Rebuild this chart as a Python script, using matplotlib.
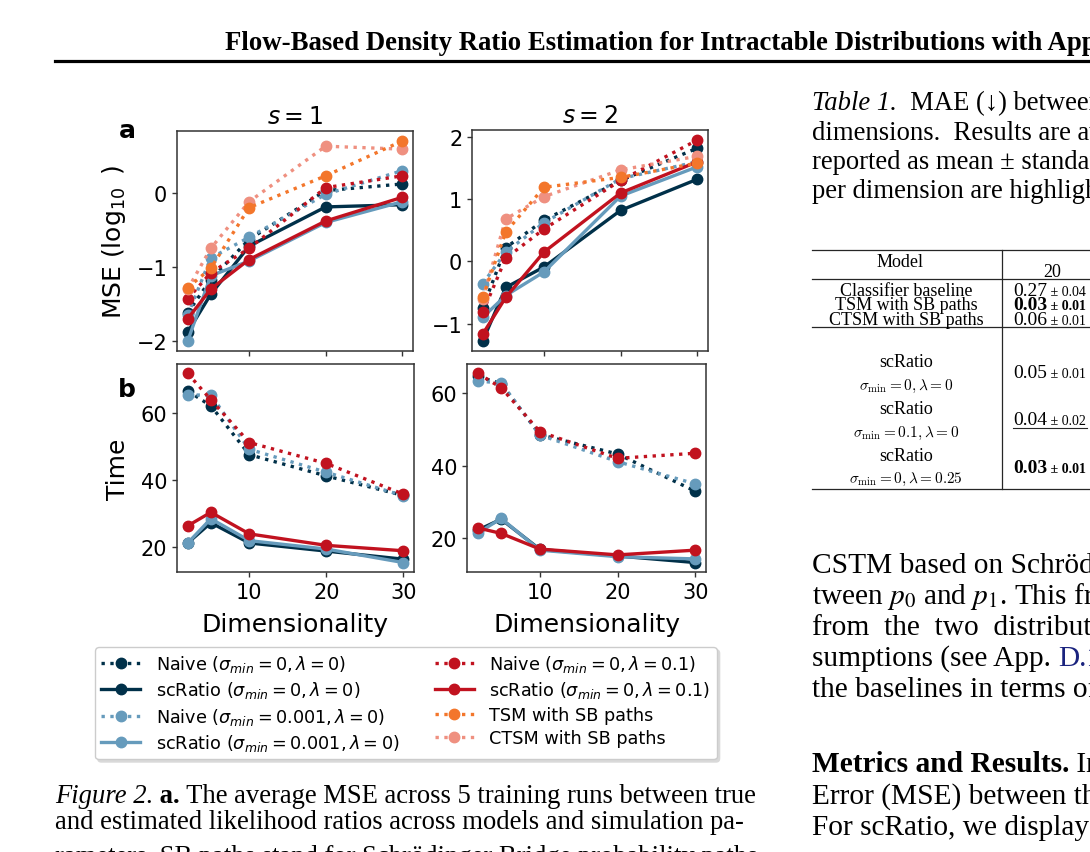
import matplotlib
matplotlib.use('Agg')
import matplotlib.pyplot as plt
from matplotlib.lines import Line2D

# ---- data ----
dims = [2, 5, 10, 20, 30]

# MSE (log10), s = 1
mse1_naive_00 = [-1.62, -1.17, -0.63, 0.03, 0.12]
mse1_sc_00 = [-1.88, -1.37, -0.72, -0.19, -0.16]
mse1_naive_0001 = [-1.65, -0.88, -0.60, -0.02, 0.30]
mse1_sc_0001 = [-2.00, -1.12, -0.92, -0.40, -0.12]
mse1_naive_01 = [-1.43, -1.08, -0.75, 0.07, 0.23]
mse1_sc_01 = [-1.70, -1.30, -0.90, -0.38, -0.06]
mse1_tsm = [-1.28, -1.02, -0.20, 0.23, 0.70]
mse1_ctsm = [-1.30, -0.75, -0.12, 0.63, 0.59]

# MSE (log10), s = 2
mse2_naive_00 = [-0.75, 0.22, 0.66, 1.30, 1.82]
mse2_sc_00 = [-1.28, -0.42, -0.09, 0.82, 1.32]
mse2_naive_0001 = [-0.36, 0.15, 0.62, 1.33, 1.60]
mse2_sc_0001 = [-0.90, -0.55, -0.17, 1.05, 1.52]
mse2_naive_01 = [-0.82, 0.05, 0.52, 1.30, 1.95]
mse2_sc_01 = [-1.17, -0.58, 0.15, 1.10, 1.60]
mse2_tsm = [-0.58, 0.47, 1.19, 1.35, 1.58]
mse2_ctsm = [-0.60, 0.68, 1.04, 1.47, 1.69]

# Time, s = 1
t1_naive_00 = [66.4, 62.0, 47.5, 41.2, 35.4]
t1_sc_00 = [21.3, 27.3, 21.3, 18.9, 16.5]
t1_naive_0001 = [65.2, 65.2, 49.1, 42.3, 35.3]
t1_sc_0001 = [21.3, 28.5, 22.0, 19.5, 15.5]
t1_naive_01 = [71.6, 63.8, 51.1, 44.9, 35.8]
t1_sc_01 = [26.4, 30.4, 24.0, 20.6, 19.0]

# Time, s = 2
t2_naive_00 = [64.5, 62.5, 48.5, 43.2, 33.0]
t2_sc_00 = [22.3, 25.3, 17.0, 15.2, 13.4]
t2_naive_0001 = [63.2, 62.7, 48.4, 41.1, 35.0]
t2_sc_0001 = [21.5, 25.5, 16.8, 15.0, 14.4]
t2_naive_01 = [65.3, 61.4, 49.3, 42.0, 43.4]
t2_sc_01 = [22.9, 21.4, 17.1, 15.5, 16.8]

labels = {
    'naive_00': r'Naive ($\sigma_{min} = 0, \lambda = 0$)',
    'sc_00': r'scRatio ($\sigma_{min} = 0, \lambda = 0$)',
    'naive_0001': r'Naive ($\sigma_{min} = 0.001, \lambda = 0$)',
    'sc_0001': r'scRatio ($\sigma_{min} = 0.001, \lambda = 0$)',
    'naive_01': r'Naive ($\sigma_{min} = 0, \lambda = 0.1$)',
    'sc_01': r'scRatio ($\sigma_{min} = 0, \lambda = 0.1$)',
    'tsm': 'TSM with SB paths',
    'ctsm': 'CTSM with SB paths',
}
navy, steel, red, orange, salmon = '#003049', '#669bbc', '#c1121f', '#f3762b', '#ef9080'
styles = {
    'naive_00': (navy, ':'), 'sc_00': (navy, '-'),
    'naive_0001': (steel, ':'), 'sc_0001': (steel, '-'),
    'naive_01': (red, ':'), 'sc_01': (red, '-'),
    'tsm': (orange, ':'), 'ctsm': (salmon, ':'),
}
draw_order = ['naive_00', 'sc_00', 'naive_0001', 'sc_0001', 'naive_01', 'sc_01', 'ctsm', 'tsm']

panels = [
    ('mse1', {'naive_00': mse1_naive_00, 'sc_00': mse1_sc_00, 'naive_0001': mse1_naive_0001,
              'sc_0001': mse1_sc_0001, 'naive_01': mse1_naive_01, 'sc_01': mse1_sc_01,
              'tsm': mse1_tsm, 'ctsm': mse1_ctsm}),
    ('mse2', {'naive_00': mse2_naive_00, 'sc_00': mse2_sc_00, 'naive_0001': mse2_naive_0001,
              'sc_0001': mse2_sc_0001, 'naive_01': mse2_naive_01, 'sc_01': mse2_sc_01,
              'tsm': mse2_tsm, 'ctsm': mse2_ctsm}),
    ('t1', {'naive_00': t1_naive_00, 'sc_00': t1_sc_00, 'naive_0001': t1_naive_0001,
            'sc_0001': t1_sc_0001, 'naive_01': t1_naive_01, 'sc_01': t1_sc_01}),
    ('t2', {'naive_00': t2_naive_00, 'sc_00': t2_sc_00, 'naive_0001': t2_naive_0001,
            'sc_0001': t2_sc_0001, 'naive_01': t2_naive_01, 'sc_01': t2_sc_01}),
]

W, H = 1090, 853
fig = plt.figure(figsize=(W / 100, H / 100), dpi=100)
fig.patch.set_facecolor('white')


def box(l, t, r, b):
    return [l / W, 1 - b / H, (r - l) / W, (b - t) / H]


axes = {
    'mse1': fig.add_axes(box(177, 132, 413, 352)),
    'mse2': fig.add_axes(box(472, 131, 708, 352)),
    't1': fig.add_axes(box(177, 365, 414, 573)),
    't2': fig.add_axes(box(467, 365, 706, 573)),
}

for name, series in panels:
    ax = axes[name]
    for key in draw_order:
        if key not in series:
            continue
        c, ls = styles[key]
        ax.plot(dims, series[key], color=c, ls=ls, lw=2.4, marker='o', ms=7.5)
    ax.set_xticks([10, 20, 30])
    ax.tick_params(labelsize=15, color='0.2', width=1)
    for sp in ax.spines.values():
        sp.set_color('0.2')
        sp.set_linewidth(1.1)

axes['mse1'].set_xticklabels([])
axes['mse2'].set_xticklabels([])
axes['mse1'].set_title('$s = 1$', fontsize=17)
axes['mse2'].set_title('$s = 2$', fontsize=17)
axes['mse1'].set_yticks([-2, -1, 0])
axes['mse2'].set_yticks([-1, 0, 1, 2])
axes['t1'].set_yticks([20, 40, 60])
axes['t2'].set_yticks([20, 40, 60])

axes['mse1'].set_ylabel(r'MSE ($\log_{10}$ )', fontsize=18, va='center')
axes['mse1'].yaxis.set_label_coords(-0.267, 0.5)
axes['t1'].set_ylabel('Time', fontsize=18, va='center')
axes['t1'].yaxis.set_label_coords(-0.249, 0.5)
for k in ['t1', 't2']:
    axes[k].set_xlabel('Dimensionality', fontsize=18, va='baseline')
    axes[k].xaxis.set_label_coords(0.5, -0.284)

fig.text(127 / W, 1 - 138 / H, 'a', fontsize=18, fontweight='bold', ha='center', va='baseline')
fig.text(127 / W, 1 - 397 / H, 'b', fontsize=18, fontweight='bold', ha='center', va='baseline')

legend_keys = ['naive_00', 'sc_00', 'naive_0001', 'sc_0001', 'naive_01', 'sc_01', 'tsm', 'ctsm']
handles = [Line2D([], [], color=styles[k][0], ls=styles[k][1], lw=2.4, marker='o', ms=7.5)
           for k in legend_keys]
fig.legend(handles, [labels[k] for k in legend_keys], ncol=2, loc='upper left',
           bbox_to_anchor=(95 / W, 1 - 648 / H), borderaxespad=0, fontsize=12.7,
           handlelength=2.2, handletextpad=0.9, columnspacing=2.0, labelspacing=0.3,
           borderpad=0.35, edgecolor='0.8', framealpha=1,
           shadow={'color': '0.85', 'alpha': 1, 'ox': 2, 'oy': -2})

# ---- surrounding page text ----
serif = ['Liberation Serif', 'DejaVu Serif']
renderer = fig.canvas.get_renderer()


def put(x, y, s, size, **kw):
    return fig.text(x / W, 1 - y / H, s, fontsize=size, family=serif, va='baseline', **kw)


def runs(x, y, parts, size):
    for s, kw in parts:
        t = put(x, y, s, size, **kw)
        x += t.get_window_extent(renderer).width


put(225, 50, 'Flow-Based Density Ratio Estimation for Intractable Distributions with Applications',
    19.3, fontweight='bold')
fig.add_artist(Line2D([55 / W, 1], [1 - 62 / H] * 2, transform=fig.transFigure, color='k', lw=2.3))

cap = 19.2
runs(55, 803, [('Figure 2.', {'style': 'italic'}), (' a.', {'fontweight': 'bold'}),
               (' The average MSE across 5 training runs between true', {})], cap)
put(55, 829, 'and estimated likelihood ratios across models and simulation pa-', cap)
put(55, 864, 'rameters. SB paths stand for Schrödinger Bridge probability paths', cap)

runs(812, 110, [('Table 1.', {'style': 'italic'}), ('  MAE (↓) between the true', {})], cap)
put(812, 140, 'dimensions.  Results are averaged', cap)
put(812, 169, 'reported as mean ± standard deviation', cap)
put(812, 198, 'per dimension are highlighted', cap)

body = 21.2
put(812, 573, 'CSTM based on Schrödinger Bridges', body)
put(812, 604, r'tween $p_0$ and $p_1$. This framework', body, math_fontfamily='stix')
put(812, 635, 'from  the  two  distributions', body)
runs(812, 666, [('sumptions (see App. ', {}), ('D.1', {'color': '#1a237e'})], body)
put(812, 697, 'the baselines in terms of', body)
runs(812, 772, [('Metrics and Results.', {'fontweight': 'bold'}), (' In', {})], body)
put(812, 804, 'Error (MSE) between the', body)
put(812, 835, 'For scRatio, we display', body)

# ---- table ----
def hline(x0, x1, y, lw=0.9):
    fig.add_artist(Line2D([x0 / W, x1 / W], [1 - y / H] * 2, transform=fig.transFigure,
                          color='0.15', lw=lw))


for y in [251, 280, 328, 490]:
    hline(812, 1090, y)
fig.add_artist(Line2D([1002 / W] * 2, [1 - 251 / H, 1 - 490 / H], transform=fig.transFigure,
                      color='0.15', lw=0.9))

tab = 13
put(900, 267, 'Model', tab, ha='center')
put(1052, 277, '20', tab, ha='center')
row_names = ['Classifier baseline', 'TSM with SB paths', 'CTSM with SB paths',
             'scRatio', 'scRatio', 'scRatio']
row_y = [296, 310.5, 325, 367, 414, 461]
row_sub = ['', '', '', r'$\sigma_{\min} = 0, \lambda = 0$', r'$\sigma_{\min} = 0.1, \lambda = 0$',
           r'$\sigma_{\min} = 0, \lambda = 0.25$']
sub_y = [0, 0, 0, 390, 437, 483]
for name, y, sub, sy in zip(row_names, row_y, row_sub, sub_y):
    put(906, y, name, tab, ha='center')
    if sub:
        put(906, sy, sub, 11, ha='center', math_fontfamily='cm')

val_means = ['0.27', '0.03', '0.06', '0.05', '0.04', '0.03']
val_stds = ['0.04', '0.01', '0.01', '0.01', '0.02', '0.01']
val_bold = [False, True, False, False, False, True]
val_y = [296, 310.5, 325, 378, 425, 473]
for m, s, b, y in zip(val_means, val_stds, val_bold, val_y):
    w = 'bold' if b else 'normal'
    t = put(1013, y, m, 14, fontweight=w)
    x = 1013 + t.get_window_extent(renderer).width
    put(x, y, ' ± ' + s, 10, fontweight=w)
hline(1013, 1087, 429, lw=0.8)

fig.savefig('out.png', dpi=100)
